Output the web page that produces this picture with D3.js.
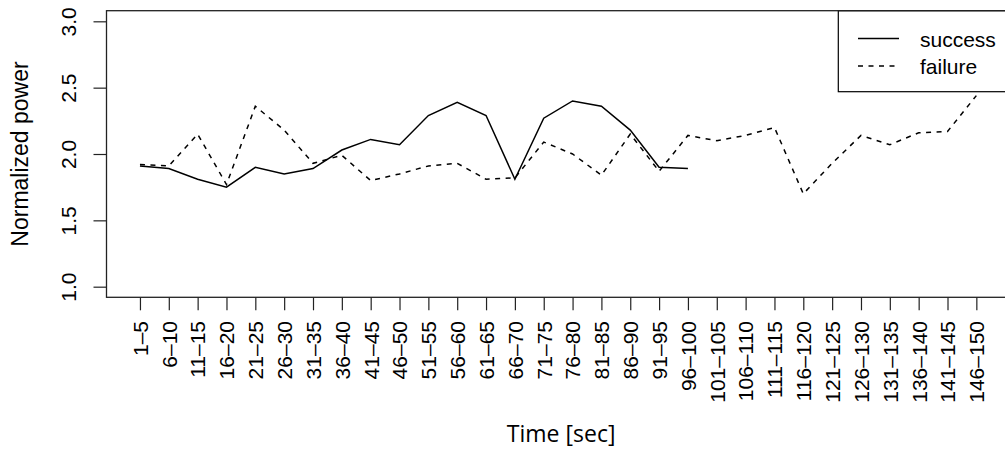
<!DOCTYPE html>
<html>
<head>
<meta charset="utf-8">
<script src="https://cdn.jsdelivr.net/npm/d3@7"></script>
<style>
  body { margin: 0; background: #fff; }
  svg { display: block; }
  .tick text { font-family: "Liberation Sans", Arial, sans-serif; font-size: 21px; fill: #000; }
</style>
</head>
<body>
<div id="chart"></div>
<script>
// time bins (5 sec each)
const bins = ["1–5", "6–10", "11–15", "16–20", "21–25", "26–30", "31–35", "36–40",
  "41–45", "46–50", "51–55", "56–60", "61–65", "66–70", "71–75", "76–80", "81–85",
  "86–90", "91–95", "96–100", "101–105", "106–110", "111–115", "116–120", "121–125",
  "126–130", "131–135", "136–140", "141–145", "146–150"];

// normalized power, success runs stop after 100 sec
const success = [1.91, 1.89, 1.81, 1.75, 1.90, 1.85, 1.89, 2.03, 2.11, 2.07,
  2.29, 2.39, 2.29, 1.81, 2.27, 2.40, 2.36, 2.18, 1.90, 1.89];

const failure = [1.92, 1.91, 2.15, 1.77, 2.36, 2.18, 1.93, 1.99, 1.80, 1.85,
  1.91, 1.93, 1.81, 1.82, 2.09, 2.00, 1.84, 2.15, 1.87, 2.14,
  2.10, 2.14, 2.20, 1.70, 1.93, 2.14, 2.07, 2.16, 2.17, 2.44];

const yTicks = [1.0, 1.5, 2.0, 2.5, 3.0];

const width = 1005, height = 450;
const plot = { left: 106.5, right: 1009.8, top: 10.7, bottom: 297.3 };

const svg = d3.select("#chart")
  .append("svg")
  .attr("width", width)
  .attr("height", height);

// scales (R style 4% padding on both axes)
const x = d3.scalePoint()
  .domain(bins)
  .range([plot.left, plot.right])
  .padding(1.16);

const y = d3.scaleLinear()
  .domain([0.92, 3.08])
  .range([plot.bottom, plot.top]);

// y axis
const yAxis = svg.append("g")
  .attr("transform", `translate(${plot.left},0)`)
  .call(d3.axisLeft(y).tickValues(yTicks).tickSize(13).tickFormat(d3.format(".1f")));
yAxis.select(".domain").remove();
yAxis.selectAll(".tick line").attr("stroke", "#222").attr("stroke-width", 1.2);
yAxis.selectAll(".tick text")
  .attr("transform", "rotate(-90)")
  .attr("x", 0)
  .attr("y", -31)
  .attr("dy", 0)
  .style("text-anchor", "middle");

// x axis
const xAxis = svg.append("g")
  .attr("transform", `translate(0,${plot.bottom})`)
  .call(d3.axisBottom(x).tickSize(13));
xAxis.select(".domain").remove();
xAxis.selectAll(".tick line").attr("stroke", "#222").attr("stroke-width", 1.2);
xAxis.selectAll(".tick text")
  .attr("transform", "rotate(-90)")
  .attr("x", -23.7)
  .attr("y", 0)
  .attr("dy", "0.35em")
  .style("text-anchor", "end");

// axis titles
svg.append("text")
  .attr("x", (plot.left + plot.right) / 2 + 3)
  .attr("y", 442)
  .style("text-anchor", "middle")
  .style("font-family", "'Open Sans', sans-serif")
  .style("font-size", "23px")
  .text("Time [sec]");

svg.append("text")
  .attr("transform", "rotate(-90)")
  .attr("x", -(plot.top + plot.bottom) / 2)
  .attr("y", 28)
  .style("text-anchor", "middle")
  .style("font-family", "'Liberation Sans', Arial, sans-serif")
  .style("font-size", "23px")
  .text("Normalized power");

// lines
const line = d3.line()
  .x((d, i) => x(bins[i]))
  .y(d => y(d));

svg.append("path")
  .datum(failure)
  .attr("fill", "none")
  .attr("stroke", "#000")
  .attr("stroke-width", 1.5)
  .attr("stroke-dasharray", "5,5.5")
  .attr("d", line);

svg.append("path")
  .datum(success)
  .attr("fill", "none")
  .attr("stroke", "#000")
  .attr("stroke-width", 1.5)
  .attr("d", line);

// legend (top right, runs past the window edge like the plot box)
const legend = svg.append("g");
legend.append("rect")
  .attr("x", 838.3)
  .attr("y", plot.top)
  .attr("width", plot.right - 838.3)
  .attr("height", 91.7 - plot.top)
  .attr("fill", "#fff")
  .attr("stroke", "#000")
  .attr("stroke-width", 1.2);

const legendItems = [
  { label: "success", dash: null, y: 38.5 },
  { label: "failure", dash: "5,5.5", y: 66 }
];
legendItems.forEach(d => {
  legend.append("line")
    .attr("x1", 858).attr("x2", 899)
    .attr("y1", d.y).attr("y2", d.y)
    .attr("stroke", "#000")
    .attr("stroke-width", 1.5)
    .attr("stroke-dasharray", d.dash);
  legend.append("text")
    .attr("x", 920)
    .attr("y", d.y + 8)
    .style("font-family", "'Liberation Sans', Arial, sans-serif")
    .style("font-size", "21px")
    .text(d.label);
});

// plot box
svg.append("rect")
  .attr("x", plot.left)
  .attr("y", plot.top)
  .attr("width", plot.right - plot.left)
  .attr("height", plot.bottom - plot.top)
  .attr("fill", "none")
  .attr("stroke", "#222")
  .attr("stroke-width", 1.3);
</script>
</body>
</html>
